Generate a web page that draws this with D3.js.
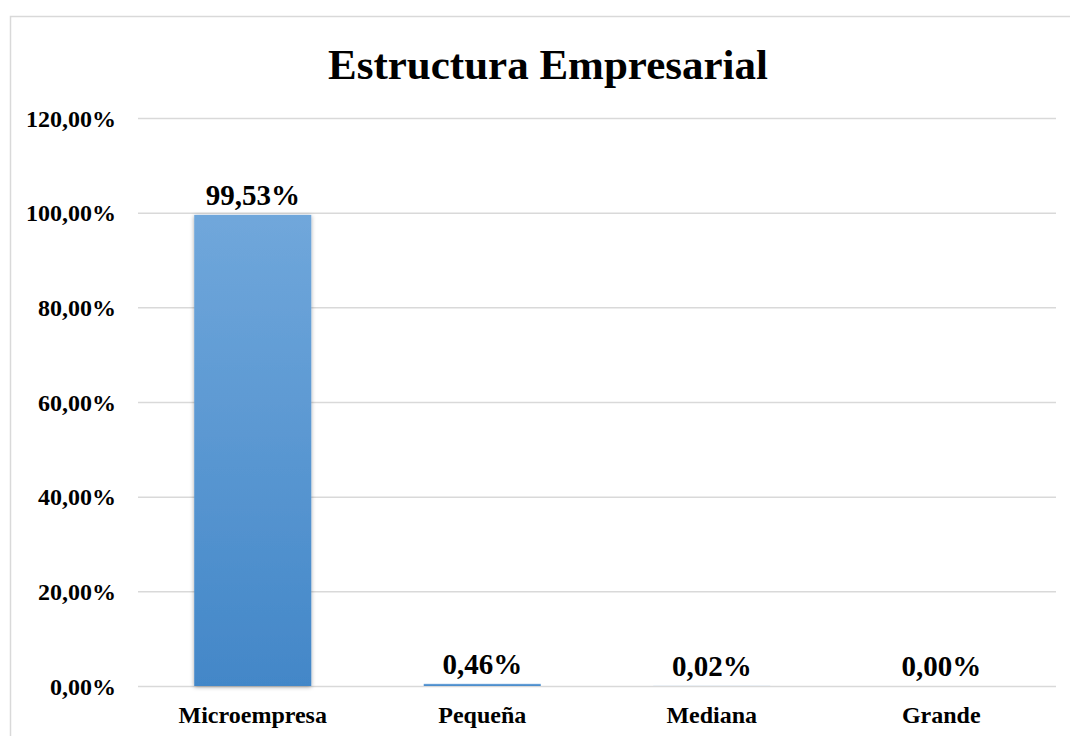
<!DOCTYPE html>
<html>
<head>
<meta charset="utf-8">
<script src="https://d3js.org/d3.v7.min.js"></script>
<style>
  body { margin: 0; background: #fff; }
</style>
</head>
<body>
<div id="chart"></div>
<script>
  // data
  var categories = ["Microempresa", "Pequeña", "Mediana", "Grande"];
  var values = [99.53, 0.46, 0.02, 0.00];
  var valueLabels = ["99,53%", "0,46%", "0,02%", "0,00%"];
  var yTicks = [0, 20, 40, 60, 80, 100, 120];

  var FONT = "Liberation Serif";

  var width = 1070, height = 736;
  var margin = { top: 118, right: 14, bottom: 50, left: 138 };
  var plotW = 1056 - margin.left, plotH = 686 - margin.top;

  var svg = d3.select("#chart").append("svg")
    .attr("width", width).attr("height", height)
    .attr("font-family", FONT).attr("font-weight", "bold");

  var defs = svg.append("defs");
  var grad = defs.append("linearGradient").attr("id", "barGrad")
    .attr("x1", 0).attr("y1", 0).attr("x2", 0).attr("y2", 1);
  grad.append("stop").attr("offset", "0%").attr("stop-color", "#70a7db");
  grad.append("stop").attr("offset", "100%").attr("stop-color", "#4387c8");

  var shadow = defs.append("filter").attr("id", "shadow")
    .attr("x", "-10%").attr("y", "-10%").attr("width", "120%").attr("height", "120%");
  shadow.append("feDropShadow").attr("dx", 0).attr("dy", 1).attr("stdDeviation", 2)
    .attr("flood-color", "#000").attr("flood-opacity", 0.35);

  // chart border
  svg.append("rect")
    .attr("x", 10.5).attr("y", 16.5)
    .attr("width", 1070).attr("height", 740)
    .attr("fill", "none").attr("stroke", "#d9d9d9").attr("stroke-width", 1.5);

  svg.append("text")
    .attr("x", 548).attr("y", 79)
    .attr("text-anchor", "middle")
    .attr("font-size", 43)
    .text("Estructura Empresarial");

  var g = svg.append("g")
    .attr("transform", "translate(" + margin.left + "," + margin.top + ")");

  var x = d3.scaleBand().domain(categories).range([0, plotW])
    .paddingInner(0.49).paddingOuter(0.245);
  var y = d3.scaleLinear().domain([0, 120]).range([plotH, 0]);

  // gridlines + y labels
  var yAxis = d3.axisLeft(y).tickValues(yTicks).tickSize(-plotW)
    .tickFormat(function (d) { return d3.format(".2f")(d).replace(".", ",") + "%"; });
  var ya = g.append("g").call(yAxis)
    .attr("font-family", FONT).attr("font-size", 24).attr("font-weight", "bold");
  ya.select(".domain").remove();
  ya.selectAll(".tick line").attr("stroke", "#d9d9d9").attr("stroke-width", 1.5);
  ya.selectAll(".tick text")
    .attr("x", -22).attr("dy", "0.34em").attr("fill", "#000");

  // bars
  g.selectAll("rect.bar")
    .data(values).enter().append("rect")
    .attr("class", "bar")
    .attr("x", function (d, i) { return x(categories[i]); })
    .attr("width", x.bandwidth())
    .attr("y", function (d) { return y(d); })
    .attr("height", function (d) { return plotH - y(d); })
    .attr("fill", "url(#barGrad)")
    .attr("filter", function (d) { return d > 5 ? "url(#shadow)" : null; });

  // value labels
  g.selectAll("text.val")
    .data(values).enter().append("text")
    .attr("class", "val")
    .attr("x", function (d, i) { return x(categories[i]) + x.bandwidth() / 2; })
    .attr("y", function (d) { return y(d) - 10; })
    .attr("text-anchor", "middle")
    .attr("font-size", 29)
    .text(function (d, i) { return valueLabels[i]; });

  // x axis labels
  var xAxis = d3.axisBottom(x).tickSize(0).tickPadding(20);
  var xa = g.append("g").attr("transform", "translate(0," + plotH + ")").call(xAxis)
    .attr("font-family", FONT).attr("font-size", 24).attr("font-weight", "bold");
  xa.select(".domain").remove();
  xa.selectAll(".tick text")
    .attr("dy", "0.71em").attr("fill", "#000");
</script>
</body>
</html>
